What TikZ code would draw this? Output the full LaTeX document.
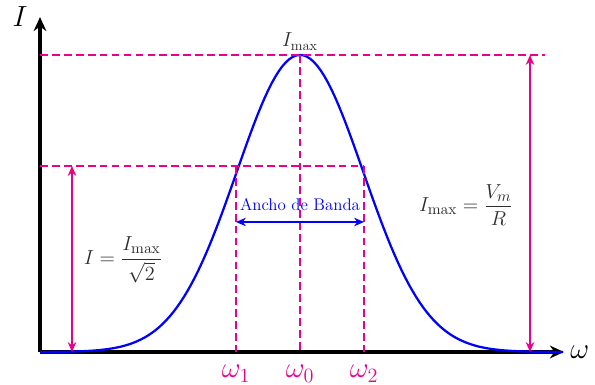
\documentclass[tikz,border=0pt]{standalone}
\usepackage{amsmath}
\definecolor{guidepink}{RGB}{233,0,139}
\definecolor{formulagray}{RGB}{45,45,45}
\usetikzlibrary{arrows.meta,positioning}

\begin{document}
\begin{tikzpicture}[
    axisline/.style={line width=2.2pt,-{Stealth[length=10pt,width=9pt]}},
    guideline/.style={guidepink,line width=1.6pt,dash pattern=on 5.5pt off 3pt},
    measureline/.style={guidepink,line width=1.3pt,{Stealth[length=7pt,width=6pt]}-{Stealth[length=7pt,width=6pt]}}
  ]
  \useasboundingbox (0,0) rectangle (14.875,9.625);
  % axes
  \coordinate (origin) at (1,0.825);
  \coordinate (ytop) at (1,9.2);
  \coordinate (xend) at (14.1,0.825);
  \draw[axisline] (origin) -- (ytop);
  \draw[axisline] (origin) -- (xend);
  \node[font=\huge] (ilabel) at (0.5,9.2) {$I$};
  \node[font=\huge,right=1pt of xend] (wlabel) {$\omega$};
  % resonance curve
  \draw[blue,line width=1.6pt] plot[domain=-6.5:6.575,samples=150]
    ({7.5+\x},{0.825+7.425*exp(-0.2*\x*\x)});
  % guides
  \coordinate (peak) at (7.5,8.25);
  \coordinate (w0) at (7.5,0.825);
  \coordinate (w1) at (5.9,0.825);
  \coordinate (w2) at (9.1,0.825);
  \coordinate (half1) at (5.9,5.475);
  \coordinate (half2) at (9.1,5.475);
  \coordinate (halfleft) at (1,5.475);
  \coordinate (topleft) at (1,8.25);
  \coordinate (topright) at (13.625,8.25);
  \draw[guideline] (topleft) -- (topright);
  \draw[guideline] (halfleft) -- (half2);
  \draw[guideline] (peak) -- (w0);
  \draw[guideline] (half1) -- (w1);
  \draw[guideline] (half2) -- (w2);
  \node[guidepink,font=\huge,below=6pt of w1] (w1label) {$\omega_1$};
  \node[guidepink,font=\huge,below=6pt of w0] (w0label) {$\omega_0$};
  \node[guidepink,font=\huge,below=6pt of w2] (w2label) {$\omega_2$};
  % bandwidth
  \coordinate (bandleft) at (5.9,4.075);
  \coordinate (bandright) at (9.1,4.075);
  \draw[blue,line width=1.3pt,{Stealth[length=7pt,width=6pt]}-{Stealth[length=7pt,width=6pt]}] (bandleft) -- (bandright);
  \node[blue,font=\large] (bandlabel) at (7.5,4.5) {Ancho de Banda};
  % heights
  \coordinate (halfbase) at (1.8,0.825);
  \coordinate (halftop) at (1.8,5.475);
  \coordinate (maxbase) at (13.25,0.825);
  \coordinate (maxtop) at (13.25,8.25);
  \draw[measureline] (halfbase) -- (halftop);
  \draw[measureline] (maxbase) -- (maxtop);
  \node[formulagray,font=\fontsize{15}{18}\selectfont] (halfeq) at (3.075,3.125) {$I=\dfrac{I_{\max}}{\sqrt{2}}$};
  \node[formulagray,font=\fontsize{15}{18}\selectfont] (maxeq) at (11.65,4.5) {$I_{\max}=\dfrac{V_m}{R}$};
  \node[formulagray,font=\Large,above=0pt of peak] (peaklabel) {$I_{\max}$};
\end{tikzpicture}
\end{document}
